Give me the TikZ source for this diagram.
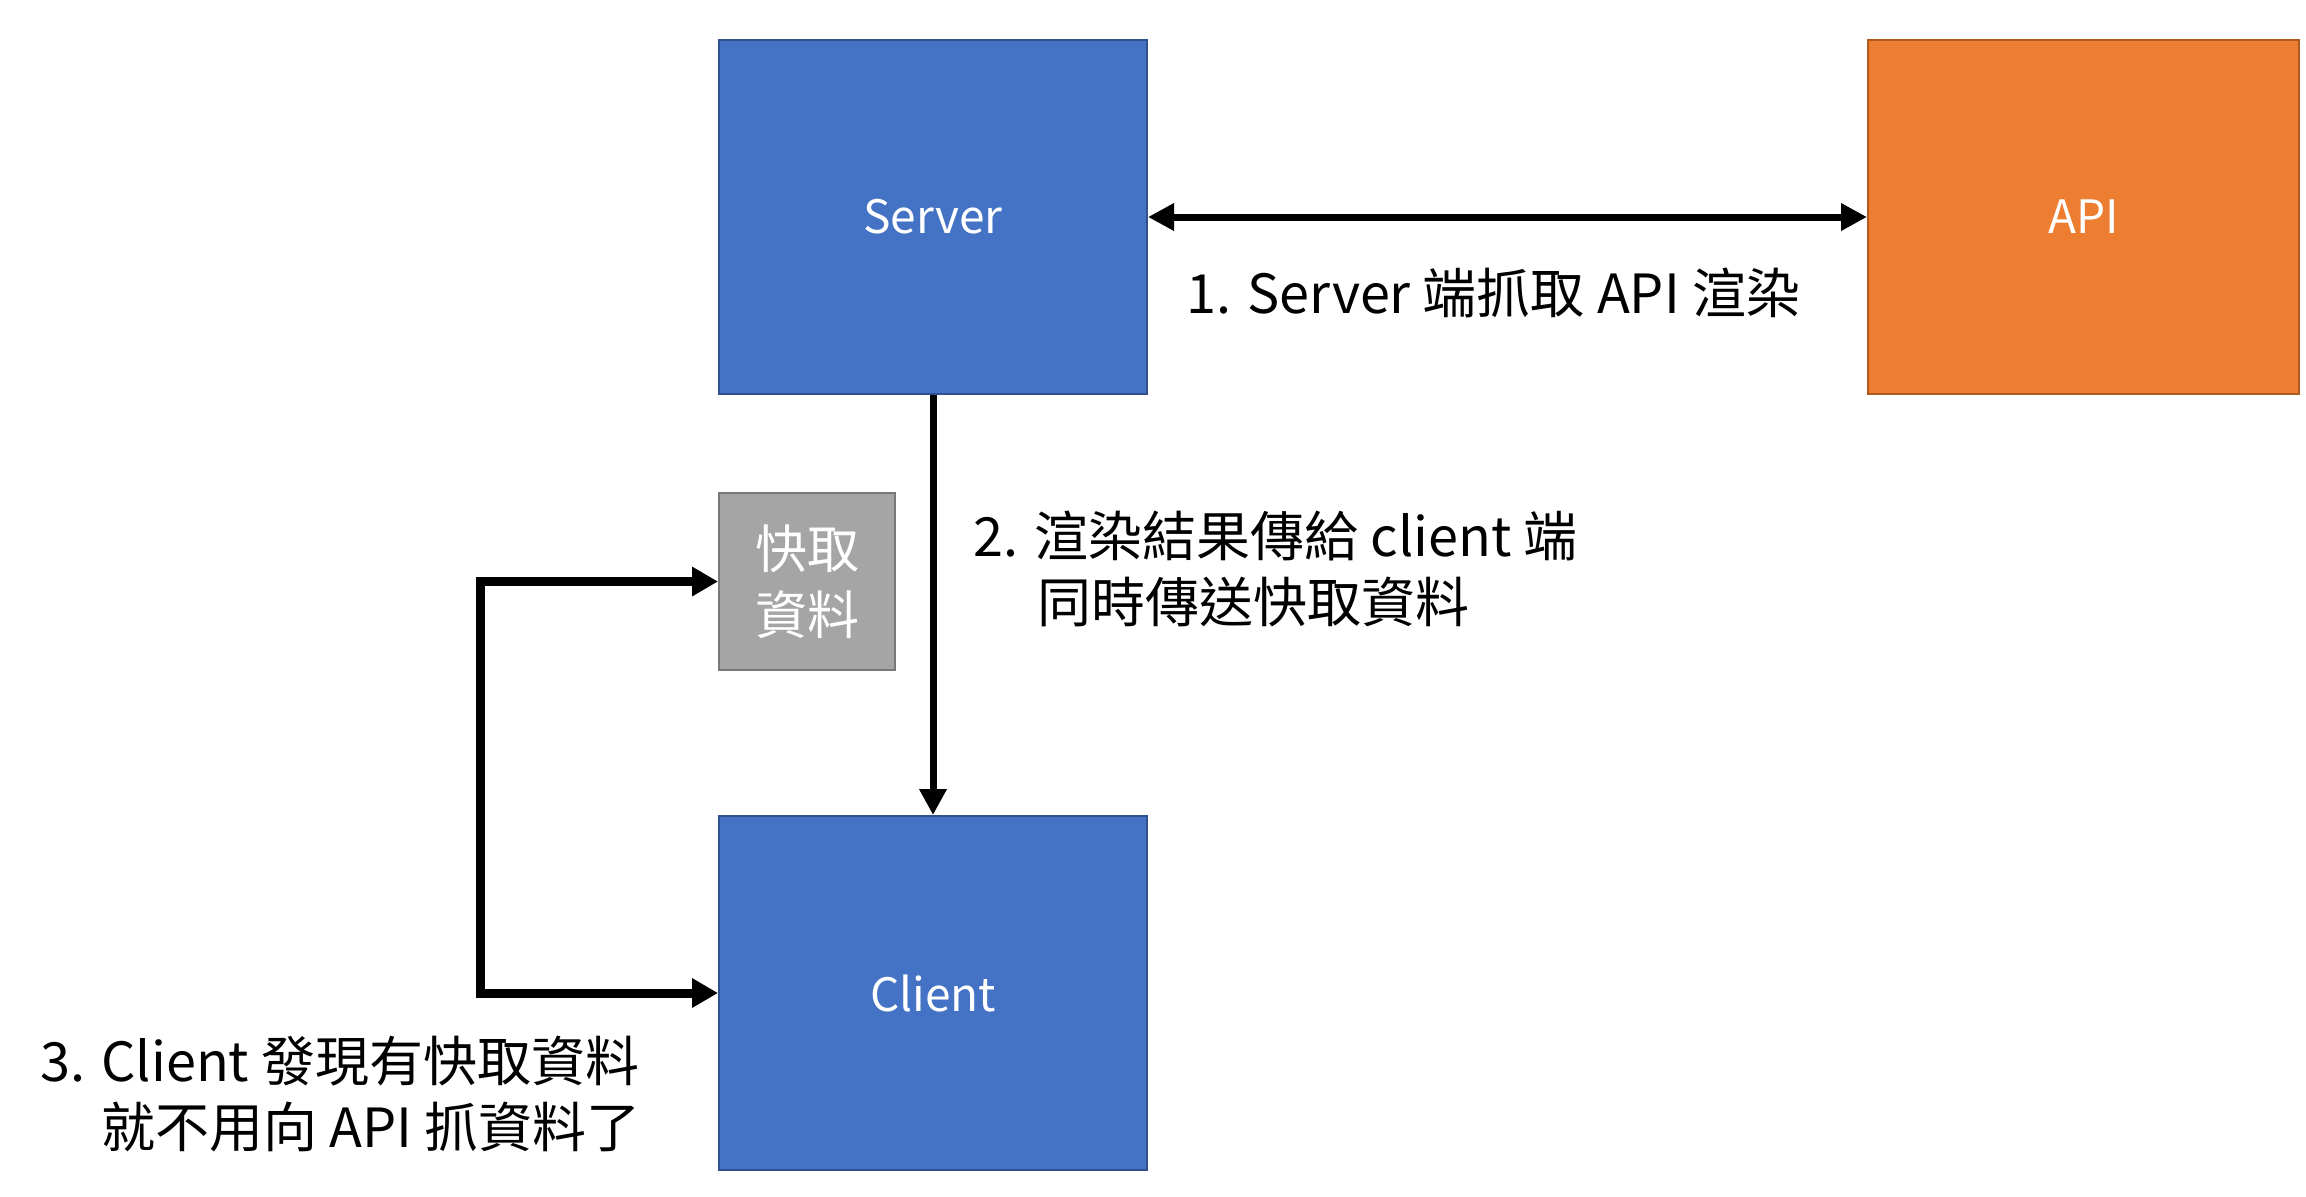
\documentclass[tikz,border=0pt]{standalone}
\usepackage{fontspec}
\setmainfont{Noto Sans CJK TC}
\usetikzlibrary{arrows.meta}
\definecolor{boxblue}{HTML}{4472C4}
\definecolor{boxblueline}{HTML}{2F528F}
\definecolor{boxorange}{HTML}{ED7D31}
\definecolor{boxorangeline}{HTML}{AE5A21}
\definecolor{boxgray}{HTML}{A5A5A5}
\definecolor{boxgrayline}{HTML}{787878}
\tikzset{
  bigbox/.style={draw=boxblueline, fill=boxblue, line width=1pt, minimum width=214pt, minimum height=177pt, inner sep=0pt, text=white, font=\fontsize{23}{28}\selectfont},
  apibox/.style={bigbox, draw=boxorangeline, fill=boxorange},
  cachebox/.style={draw=boxgrayline, fill=boxgray, line width=1pt, minimum width=88pt, minimum height=88.5pt, inner sep=0pt, text=white, align=center, font=\fontsize{26}{33}\selectfont},
  lbl/.style={anchor=west, inner sep=0pt, align=left, font=\fontsize{27}{33}\selectfont},
  conn/.style={line width=3.5pt, -{Triangle[length=13pt,width=13pt]}},
  connb/.style={line width=3.5pt, {Triangle[length=13pt,width=13pt]}-{Triangle[length=13pt,width=13pt]}},
  elbow/.style={line width=4.5pt, {Triangle[length=13pt,width=14pt]}-{Triangle[length=13pt,width=14pt]}}
}
\begin{document}
\begin{tikzpicture}[x=0.5pt,y=-0.5pt]
\useasboundingbox (0,0) rectangle (2306,1196);
\node[bigbox] (server) at (933,217) {Server};
\node[apibox, minimum width=215.5pt] (api) at (2083.5,217) {API};
\node[cachebox] (cache) at (807,581.5) {快取\\資料};
\node[bigbox] (client) at (933,993) {Client};
\draw[connb] (server.east) -- (api.west);
\draw[conn] (server.south) -- (client.north);
\draw[elbow] (cache.west) -- ++(-238,0) |- (client.west);
\node[lbl] (l1) at (1186,293) {1. Server 端抓取 API 渲染};
\node[lbl, anchor=north west] (l2) at (973,511) {2. 渲染結果傳給 client 端\\\hspace*{32pt}同時傳送快取資料};
\node[lbl, anchor=north west] (l3) at (40,1036) {3. Client 發現有快取資料\\\hspace*{30.5pt}就不用向 API 抓資料了};
\end{tikzpicture}
\end{document}
